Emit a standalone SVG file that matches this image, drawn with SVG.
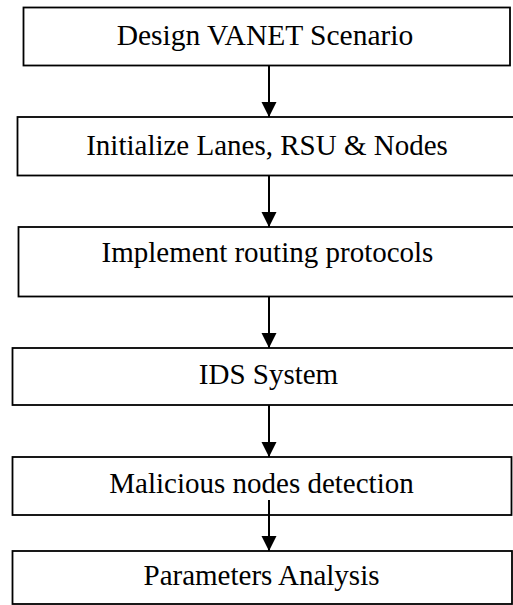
<svg xmlns="http://www.w3.org/2000/svg" width="513" height="605" viewBox="0 0 513 605">
  <style>
    .box { fill: #ffffff; stroke: #000000; stroke-width: 1.8; }
    .label { font-family: 'Liberation Serif', 'DejaVu Serif', serif; font-size: 29px; fill: #000000; text-anchor: middle; }
    .flow { stroke: #000000; stroke-width: 2; fill: none; }
  </style>
  <defs>
    <marker id="arrowhead" markerUnits="userSpaceOnUse" markerWidth="16" markerHeight="16" refX="15" refY="7.5" orient="auto">
      <path d="M0,0 L15,7.5 L0,15 Z" fill="#000000"/>
    </marker>
  </defs>
  <rect width="513" height="605" fill="#ffffff"/>

  <g id="node-design">
    <rect class="box" x="23.5" y="7.5" width="486.5" height="58"/>
    <text class="label" x="265" y="45" style="font-size:29.5px">Design VANET Scenario</text>
  </g>
  <g id="node-initialize">
    <rect class="box" x="17.5" y="117" width="500" height="58.5"/>
    <text class="label" x="267" y="155">Initialize Lanes, RSU &amp; Nodes</text>
  </g>
  <g id="node-routing">
    <rect class="box" x="18.5" y="227" width="500" height="69.5"/>
    <text class="label" x="267.5" y="262">Implement routing protocols</text>
  </g>
  <g id="node-ids">
    <rect class="box" x="12.5" y="348" width="506" height="57"/>
    <text class="label" x="268.5" y="384">IDS System</text>
  </g>
  <g id="node-malicious">
    <rect class="box" x="12.5" y="457" width="499" height="58"/>
    <text class="label" x="261.5" y="493">Malicious nodes detection</text>
  </g>
  <g id="node-parameters">
    <rect class="box" x="12.5" y="551" width="499.5" height="53"/>
    <text class="label" x="261.5" y="585">Parameters Analysis</text>
  </g>

  <g id="connectors">
    <line class="flow" x1="269" y1="66" x2="269" y2="117" marker-end="url(#arrowhead)"/>
    <line class="flow" x1="269" y1="176" x2="269" y2="227" marker-end="url(#arrowhead)"/>
    <line class="flow" x1="269" y1="297" x2="269" y2="348" marker-end="url(#arrowhead)"/>
    <line class="flow" x1="269" y1="405" x2="269" y2="457" marker-end="url(#arrowhead)"/>
    <line class="flow" x1="269" y1="500" x2="269" y2="551" marker-end="url(#arrowhead)"/>
  </g>
</svg>
